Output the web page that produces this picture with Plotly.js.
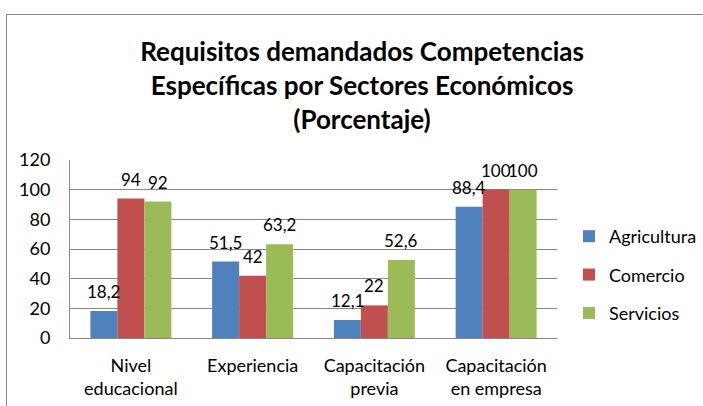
<!DOCTYPE html>
<html>
<head>
<meta charset="utf-8">
<script src="https://cdn.plot.ly/plotly-3.0.1.min.js"></script>
<style>
html,body{margin:0;padding:0;background:#fff;overflow:hidden}
#wrap{position:relative;width:703px;height:406px;overflow:hidden}
#chart{width:703px;height:406px}
#frame{position:absolute;left:6px;top:14px;width:900px;height:600px;border-left:1.5px solid #878787;border-top:1.5px solid #878787;pointer-events:none}
</style>
</head>
<body>
<div id="wrap"><div id="chart"></div><div id="frame"></div></div>
<script>
const categories = ["Nivel<br>educacional", "Experiencia", "Capacitación<br>previa", "Capacitación<br>en empresa"];
const agricultura = [18.2, 51.5, 12.1, 88.4];
const comercio = [94, 42, 22, 100];
const servicios = [92, 63.2, 52.6, 100];
const seriesNames = ["Agricultura", "Comercio", "Servicios"];
const seriesColors = ["#4F81BD", "#C0504D", "#9BBB59"];
const yTicks = [0, 20, 40, 60, 80, 100, 120];

const FONT = "Lato, 'Open Sans', sans-serif";
const fmt = v => String(v).replace('.', ',');
const seriesValues = [agricultura, comercio, servicios];

const W = 703, H = 406;
const M = {l: 70, r: 146, t: 160, b: 68, autoexpand: false};
const BARGAP = 0.335;
const plotW = W - M.l - M.r;
const barPx = plotW / categories.length * (1 - BARGAP) / seriesValues.length;

const traces = seriesValues.map((vals, i) => ({
  type: 'bar',
  name: seriesNames[i],
  x: categories,
  y: vals,
  marker: {color: seriesColors[i]},
  legendgroup: 'g' + i,
  hoverinfo: 'none'
}));

const annotations = [];
seriesValues.forEach((vals, i) => {
  vals.forEach((v, j) => {
    annotations.push({
      xref: 'x', yref: 'y', x: categories[j], y: v,
      text: fmt(v), showarrow: false,
      xanchor: 'center', yanchor: 'bottom',
      xshift: (i - (seriesValues.length - 1) / 2) * barPx,
      yshift: 7,
      font: {family: FONT, size: 17, color: '#000'}
    });
  });
});

const layout = {
  width: W, height: H,
  margin: M,
  paper_bgcolor: '#fff', plot_bgcolor: '#fff',
  font: {family: FONT, size: 18, color: '#000'},
  title: {
    text: 'Requisitos demandados Competencias<br>Específicas por Sectores Económicos<br>(Porcentaje)',
    font: {family: FONT, size: 26, color: '#000', weight: 'bold'},
    xref: 'container', x: 0.515, xanchor: 'center',
    yref: 'container', y: 0.85, yanchor: 'top'
  },
  barmode: 'group',
  bargap: BARGAP,
  bargroupgap: 0,
  xaxis: {
    showline: true, linecolor: '#868686', linewidth: 1,
    ticks: '', showgrid: false,
    tickfont: {family: FONT, size: 18, color: '#000'},
    ticklabelstandoff: 11
  },
  yaxis: {
    range: [0, 120],
    tickvals: yTicks,
    ticktext: yTicks.map(String),
    showline: true, linecolor: '#868686', linewidth: 1,
    showgrid: true, gridcolor: '#868686', gridwidth: 1,
    zeroline: false, ticks: '',
    tickfont: {family: FONT, size: 18, color: '#000'},
    ticklabelstandoff: 15
  },
  legend: {
    x: 1.0246, xanchor: 'left', y: 0.354, yanchor: 'middle',
    font: {family: FONT, size: 18, color: '#000'},
    tracegroupgap: 12,
    traceorder: 'grouped'
  },
  showlegend: true,
  annotations: annotations
};

Plotly.newPlot('chart', traces, layout, {displayModeBar: false, staticPlot: true});
</script>
</body>
</html>
